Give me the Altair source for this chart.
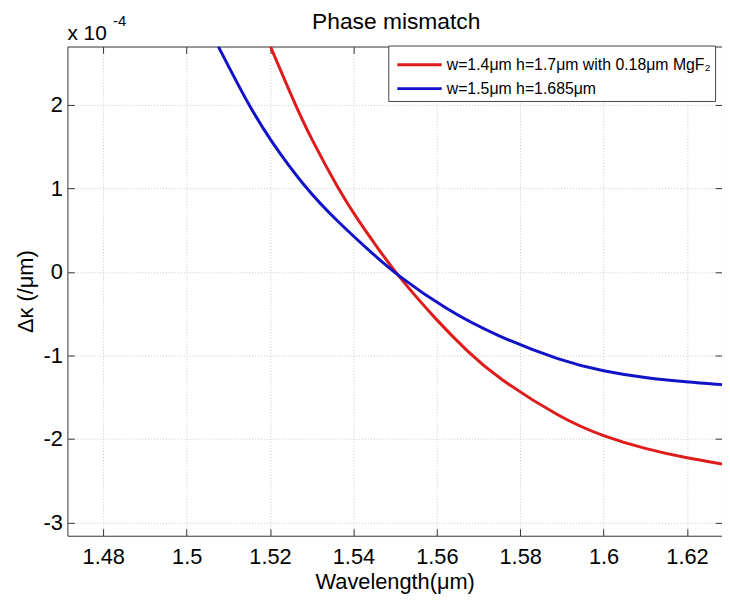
import altair as alt
import pandas as pd

# ---- data (Δκ in units of 1e-4 /μm) ----
series_names = ["w=1.4μm h=1.7μm with 0.18μm MgF₂", "w=1.5μm h=1.685μm"]
series_colors = ["#e01b1b", "#1212c8"]

wl_red = [1.5201, 1.5258, 1.5296, 1.5365, 1.5415, 1.5455, 1.5505, 1.5603, 1.5677,
          1.574, 1.59, 1.6, 1.61, 1.62, 1.6284]
dk_red = [2.70, 2.03, 1.62, 0.98, 0.59, 0.31, -0.04, -0.60, -0.97,
          -1.25, -1.76, -1.97, -2.12, -2.23, -2.30]

wl_blue = [1.5076, 1.5147, 1.52, 1.5282, 1.536, 1.545, 1.5505, 1.5622, 1.574,
           1.59, 1.6, 1.61, 1.62, 1.6284]
dk_blue = [2.70, 2.01, 1.58, 1.02, 0.61, 0.20, -0.04, -0.45, -0.76,
           -1.07, -1.19, -1.27, -1.32, -1.35]

x_ticks = [1.48, 1.5, 1.52, 1.54, 1.56, 1.58, 1.6, 1.62]
y_ticks = [-3, -2, -1, 0, 1, 2]
x_domain = [1.4714, 1.6284]
y_domain = [-3.16, 2.70]

df = pd.DataFrame({
    "wl": wl_red + wl_blue,
    "dk": dk_red + dk_blue,
    "series": [series_names[0]] * len(wl_red) + [series_names[1]] * len(wl_blue),
})

FONT = "Liberation Sans"
xs = alt.Scale(domain=x_domain, nice=False, zero=False)
ys = alt.Scale(domain=y_domain, nice=False, zero=False)

lines = alt.Chart(df).mark_line(strokeWidth=3, clip=True, interpolate="basis").encode(
    x=alt.X("wl:Q", scale=xs, axis=alt.Axis(
        orient="bottom", values=x_ticks, labelExpr="'' + datum.value",
        title="Wavelength(μm)", grid=True, offset=-7, tickSize=7, domain=False,
        labelPadding=11, titlePadding=4)),
    y=alt.Y("dk:Q", scale=ys, axis=alt.Axis(
        orient="left", values=y_ticks, labelExpr="'' + datum.value",
        title="Δκ (/μm)", grid=True, offset=-7, tickSize=7, domain=False,
        labelPadding=5, titlePadding=6)),
    color=alt.Color("series:N", scale=alt.Scale(domain=series_names, range=series_colors),
                    sort=series_names,
                    legend=alt.Legend(
                        title=None, orient="none", legendX=324, legendY=-1,
                        padding=4, fillColor="white", strokeColor="#444",
                        symbolType="M-1.6,0L1.6,0", symbolSize=784, symbolStrokeWidth=3,
                        symbolOffset=12, labelOffset=12, rowPadding=0,
                        labelFontSize=16, labelFont=FONT, labelColor="black",
                        labelLimit=600)),
)

ghost = alt.Chart(df).mark_line(opacity=0).encode(
    x=alt.X("wl:Q", scale=xs, axis=alt.Axis(
        orient="top", values=x_ticks, labels=False, title=None, grid=False,
        offset=-7, tickSize=7, domain=False)),
    y=alt.Y("dk:Q", scale=ys, axis=alt.Axis(
        orient="right", values=y_ticks, labels=False, title=None, grid=False,
        offset=-7, tickSize=7, domain=False)),
    detail="series:N",
)

title_txt = alt.Chart(pd.DataFrame({"t": ["Phase mismatch"]})).mark_text(
    align="center", baseline="alphabetic", fontSize=23, font=FONT, color="black"
).encode(x=alt.value(332), y=alt.value(-18), text="t:N")

exp_base = alt.Chart(pd.DataFrame({"t": ["x 10"]})).mark_text(
    align="left", baseline="alphabetic", fontSize=21, font=FONT, color="black"
).encode(x=alt.value(0), y=alt.value(-7), text="t:N")

exp_sup = alt.Chart(pd.DataFrame({"t": ["-4"]})).mark_text(
    align="left", baseline="alphabetic", fontSize=15, font=FONT, color="black"
).encode(x=alt.value(46), y=alt.value(-21), text="t:N")

chart = alt.layer(lines, ghost, title_txt, exp_base, exp_sup).resolve_axis(
    x="independent", y="independent"
).properties(
    width=661, height=494,
    padding={"left": 60, "top": 36, "right": 0, "bottom": 62},
    autosize=alt.AutoSizeParams(type="none"),
).configure_view(
    stroke="#333", strokeWidth=1
).configure_axis(
    labelFont=FONT, labelFontSize=22, labelColor="black",
    titleFont=FONT, titleFontSize=22, titleFontWeight="normal", titleColor="black",
    tickColor="#333", gridColor="#c8c8c8", gridDash=[1, 2], gridWidth=1,
)

chart.save("out.html", embed_options={"renderer": "svg", "actions": False})
